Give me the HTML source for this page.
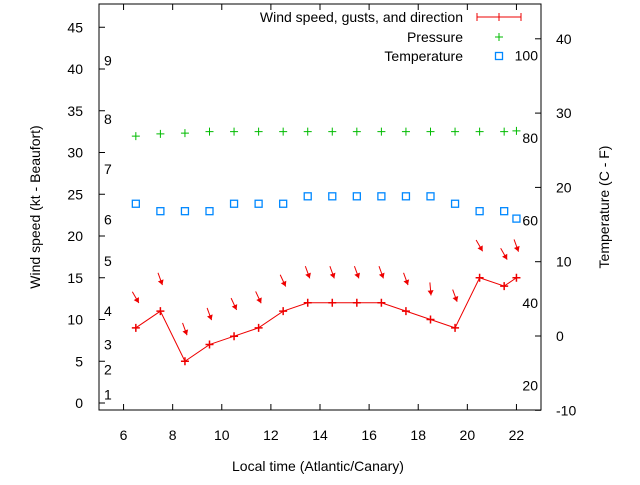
<!DOCTYPE html>
<html><head><meta charset="utf-8"><style>
body{margin:0;background:#fff}
svg text{font-family:"Liberation Sans",sans-serif;font-size:14px;fill:#000}
</style></head><body>
<svg id="chart" width="640" height="480" xmlns="http://www.w3.org/2000/svg"></svg>
<script>
const times=[6.5,7.5,8.5,9.5,10.5,11.5,12.5,13.5,14.5,15.5,16.5,17.5,18.5,19.5,20.5,21.5,22];
const wind=[9,11,5,7,8,9,11,12,12,12,12,11,10,9,15,14,15];
const gusts=[12.6,14.8,8.8,10.6,11.8,12.6,14.6,15.6,15.6,15.6,15.6,14.8,13.6,12.8,18.8,17.8,18.8];
const dirs=[330,340,340,340,335,335,335,340,340,340,340,340,355,340,330,330,340];
const pressure=[26.9,27.2,27.3,27.5,27.5,27.5,27.5,27.5,27.5,27.5,27.5,27.5,27.5,27.5,27.5,27.5,27.6];
const temperature=[17.8,16.8,16.8,16.8,17.8,17.8,17.8,18.8,18.8,18.8,18.8,18.8,18.8,17.8,16.8,16.8,15.8];
const xTicks=[6,8,10,12,14,16,18,20,22];
const yTicks=[0,5,10,15,20,25,30,35,40,45];
const y2Ticks=[-10,0,10,20,30,40];
const fTicks=[20,40,60,80,100];
const beaufort=[1,4,7,11,17,22,28,34,41];
const L=99,R=541,T=4,B=410;
const X=h=>L+(h-5)*(R-L)/18;
const Y=v=>403-v*8.35;
const Y2=c=>336-c*7.43;
const svg=document.getElementById('chart');
function el(tag,attrs,txt){const e=document.createElementNS('http://www.w3.org/2000/svg',tag);for(const k in attrs)e.setAttribute(k,attrs[k]);if(txt!==undefined)e.textContent=txt;svg.appendChild(e);return e;}
let e=el('rect',{x:L,y:T,width:R-L,height:B-T,fill:'none',stroke:'#000'});

xTicks.forEach(t=>{const x=X(t);el('line',{x1:x,y1:B,x2:x,y2:B-6,stroke:'#000'});el('line',{x1:x,y1:T,x2:x,y2:T+6,stroke:'#000'});
 e=el('text',{x:x,y:440,'text-anchor':'middle'},t);});
yTicks.forEach(t=>{const y=Y(t);el('line',{x1:L,y1:y,x2:L+6,y2:y,stroke:'#000'});
 e=el('text',{x:83,y:y+5,'text-anchor':'end'},t);});
y2Ticks.forEach(t=>{const y=Y2(t);el('line',{x1:R,y1:y,x2:R-6,y2:y,stroke:'#000'});
 e=el('text',{x:556,y:y+5},t);});
fTicks.forEach(f=>{const c=(f-32)/1.8;e=el('text',{x:538,y:Y2(c)+5,'text-anchor':'end'},f);});
beaufort.forEach((k,i)=>{e=el('text',{x:104,y:Y(k)+5},i+1);});
e=el('text',{x:318,y:471,'text-anchor':'middle'},'Local time (Atlantic/Canary)');
e=el('text',{x:0,y:0,'text-anchor':'middle',transform:'translate(40,207) rotate(-90)'},'Wind speed (kt - Beaufort)');
e=el('text',{x:0,y:0,'text-anchor':'middle',transform:'translate(609,207) rotate(-90)'},'Temperature (C - F)');
// wind line
e=el('polyline',{points:times.map((t,i)=>X(t)+','+Y(wind[i])).join(' '),fill:'none',stroke:'#e00',Width:1});e.setAttribute('stroke-width','1');

times.forEach((t,i)=>{const x=X(t),y=Y(wind[i]);
 e=el('path',{d:`M${x-4} ${y}H${x+4}M${x} ${y-4}V${y+4}`,stroke:'#e00','stroke-width':1.5});
 const a=(dirs[i]+180)*Math.PI/180;const dx=Math.sin(a),dy=-Math.cos(a);const gy=Y(gusts[i]);
 const x1=x-dx*7,y1=gy-dy*7,x2=x+dx*6,y2=gy+dy*6;
 const px=-dy,py=dx;
 e=el('line',{x1:x1,y1:y1,x2:x2,y2:y2,stroke:'#e00','stroke-width':1});
 el('polygon',{points:`${x2},${y2} ${x2-dx*5+px*3},${y2-dy*5+py*3} ${x2-dx*5-px*3},${y2-dy*5-py*3}`,fill:'#e00'});
 const px2=X(t),py2=Y2(pressure[i]);
 e=el('path',{d:`M${px2-4} ${py2}H${px2+4}M${px2} ${py2-4}V${py2+4}`,stroke:'#0b0','stroke-width':1});
 const ty=Y2(temperature[i]);
 e=el('rect',{x:x-3.5,y:ty-3.5,width:7,height:7,fill:'none',stroke:'#08f','stroke-width':1.3});
});
// legend
e=el('text',{x:463,y:22,'text-anchor':'end'},'Wind speed, gusts, and direction');
el('path',{d:'M477 17H521M477 13V21M521 13V21M499 13V21',stroke:'#e00','stroke-width':1});
e=el('text',{x:463,y:42,'text-anchor':'end'},'Pressure');
el('path',{d:'M495 37H503M499 33V41',stroke:'#0b0','stroke-width':1});
e=el('text',{x:463,y:61,'text-anchor':'end'},'Temperature');
el('rect',{x:495.5,y:52.5,width:7,height:7,fill:'none',stroke:'#08f','stroke-width':1.3});
</script>
</body></html>
